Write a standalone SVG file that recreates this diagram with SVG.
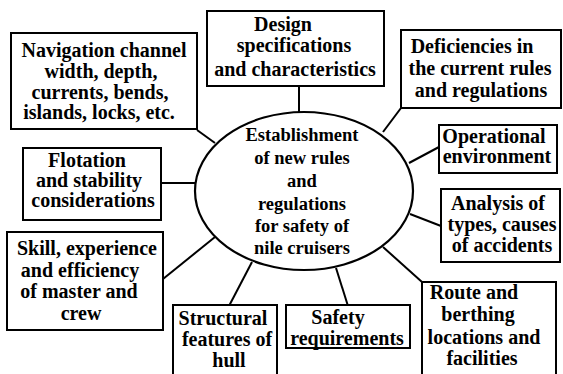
<svg xmlns="http://www.w3.org/2000/svg" width="563" height="374" viewBox="0 0 563 374">
<style>
.box{fill:#fff;stroke:#000;stroke-width:2}
.ell{fill:#fff;stroke:#000;stroke-width:2.2}
.con line{stroke:#000;stroke-width:2}
text{font-family:"Liberation Serif","Times New Roman",serif;font-weight:bold;font-size:20px;fill:#000;text-anchor:middle}
.c text{font-size:18.5px}
</style>
<rect width="563" height="374" fill="#fff"/>
<g class="con">
<line x1="299" y1="86" x2="299" y2="113"/>
<line x1="197" y1="130" x2="215" y2="143"/>
<line x1="161" y1="183" x2="196" y2="183"/>
<line x1="163" y1="279" x2="215" y2="237"/>
<line x1="229" y1="306" x2="252" y2="262"/>
<line x1="348" y1="306" x2="336" y2="268"/>
<line x1="422" y1="282" x2="383" y2="247"/>
<line x1="441" y1="226" x2="410" y2="214"/>
<line x1="439" y1="147" x2="409" y2="163"/>
<line x1="401" y1="108" x2="383" y2="132"/>
</g>
<g id="center" class="c">
<ellipse class="ell" cx="304" cy="191" rx="109" ry="79"/>
<text x="302" y="141">Establishment</text>
<text x="302" y="164">of new rules</text>
<text x="302" y="187">and</text>
<text x="302" y="210">regulations</text>
<text x="302" y="232">for safety of</text>
<text x="302" y="254">nile cruisers</text>
</g>
<g id="design">
<rect class="box" x="207" y="11" width="177" height="75"/>
<text x="283" y="31">Design</text>
<text x="294" y="52">specifications</text>
<text x="295" y="76">and characteristics</text>
</g>
<g id="navigation">
<rect class="box" x="11" y="33" width="186" height="96"/>
<text x="104" y="57">Navigation channel</text>
<text x="101" y="78">width, depth,</text>
<text x="100" y="99">currents, bends,</text>
<text x="99" y="119">islands, locks, etc.</text>
</g>
<g id="deficiencies">
<rect class="box" x="401" y="30" width="160" height="78"/>
<text x="472" y="53">Deficiencies in</text>
<text x="480" y="75">the current rules</text>
<text x="481" y="97">and regulations</text>
</g>
<g id="operational">
<rect class="box" x="439" y="125" width="118" height="48"/>
<text x="494" y="143">Operational</text>
<text x="497" y="163">environment</text>
</g>
<g id="flotation">
<rect class="box" x="23" y="148" width="138" height="72"/>
<text x="87" y="167">Flotation</text>
<text x="89" y="187">and stability</text>
<text x="93" y="207">considerations</text>
</g>
<g id="analysis">
<rect class="box" x="441" y="189" width="119" height="73"/>
<text x="498" y="210">Analysis of</text>
<text x="502" y="231">types, causes</text>
<text x="502" y="252">of accidents</text>
</g>
<g id="skill">
<rect class="box" x="7" y="232" width="156" height="98"/>
<text x="87" y="255">Skill, experience</text>
<text x="80" y="277">and efficiency</text>
<text x="79" y="298">of master and</text>
<text x="81" y="320">crew</text>
</g>
<g id="structural">
<rect class="box" x="173" y="305" width="104" height="80"/>
<text x="223" y="325">Structural</text>
<text x="227" y="346">features of</text>
<text x="229" y="367">hull</text>
</g>
<g id="safety">
<rect class="box" x="286" y="305" width="124" height="43"/>
<text x="338" y="324">Safety</text>
<text x="347" y="345">requirements</text>
</g>
<g id="route">
<rect class="box" x="422" y="282" width="134" height="100"/>
<text x="474" y="299">Route and</text>
<text x="478" y="321">berthing</text>
<text x="484" y="344">locations and</text>
<text x="482" y="365">facilities</text>
</g>
</svg>
